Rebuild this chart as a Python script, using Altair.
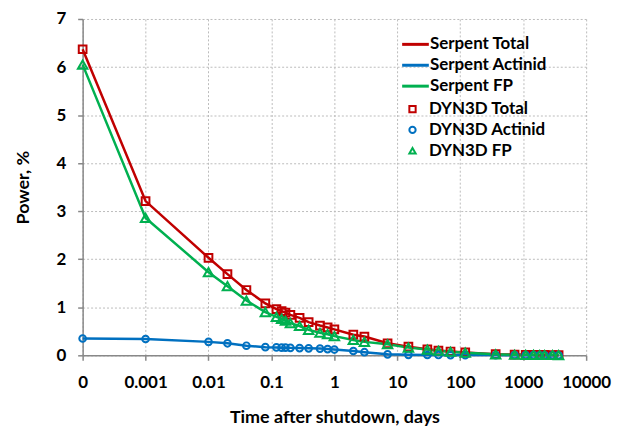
import altair as alt
import pandas as pd

times = [0.0001, 0.001, 0.01, 0.02, 0.04, 0.08, 0.12, 0.145, 0.167, 0.2, 0.28, 0.39, 0.59, 0.78, 1,
         2, 3, 7, 15, 30, 45, 70, 120, 365, 730, 1095, 1460, 1825, 2190, 2920, 3650]
total = [6.37, 3.21, 2.03, 1.69, 1.36, 1.08, 0.96, 0.92, 0.89, 0.84, 0.78, 0.69, 0.62, 0.58, 0.54,
         0.43, 0.39, 0.25, 0.18, 0.125, 0.10, 0.08, 0.06, 0.025, 0.015, 0.012, 0.010, 0.009, 0.008, 0.007, 0.006]
actinid = [0.35, 0.34, 0.28, 0.25, 0.20, 0.17, 0.165, 0.16, 0.16, 0.155, 0.15, 0.145, 0.14, 0.13, 0.12,
           0.09, 0.065, 0.02, 0.01, 0.007, 0.006, 0.005, 0.005, 0.004, 0.003, 0.003, 0.003, 0.002, 0.002, 0.002, 0.002]
fp = [6.05, 2.86, 1.73, 1.44, 1.14, 0.90, 0.80, 0.76, 0.72, 0.67, 0.61, 0.53, 0.47, 0.44, 0.40,
      0.32, 0.28, 0.23, 0.16, 0.12, 0.095, 0.075, 0.055, 0.02, 0.012, 0.010, 0.008, 0.007, 0.006, 0.006, 0.005]

serpent_names = ["Serpent Total", "Serpent Actinid", "Serpent FP"]
dyn_names = ["DYN3D Total", "DYN3D Actinid", "DYN3D FP"]
colors = ["#C00000", "#0070C0", "#00B050"]
shapes = ["square", "circle", "triangle-up"]
sizes = [60, 45, 90]
x_ticks = [0.0001, 0.001, 0.01, 0.1, 1, 10, 100, 1000, 10000]

rows = []
for i, vals in enumerate([total, actinid, fp]):
    for t, v in zip(times, vals):
        rows.append({"t": t, "power": v, "serpent": serpent_names[i], "dyn": dyn_names[i],
                     "order": i, "sz": sizes[i]})
df = pd.DataFrame(rows)

FONT = "Lato"

x = alt.X("t:Q", scale=alt.Scale(type="log", domain=[0.0001, 10000], nice=False),
          axis=alt.Axis(values=x_ticks, format="~g",
                        labelExpr="datum.value < 0.0005 ? '0' : datum.label",
                        labelOverlap=False, labelFlush=False, labelBound=False,
                        title="Time after shutdown, days", labelPadding=14, titlePadding=19,
                        tickSize=5, grid=True))
y = alt.Y("power:Q", scale=alt.Scale(domain=[0, 7], nice=False),
          axis=alt.Axis(values=[0, 1, 2, 3, 4, 5, 6, 7], title="Power, %", labelPadding=12,
                        titlePadding=24, tickSize=5, grid=True))

lines = alt.Chart(df).mark_line(strokeWidth=2.5).encode(
    x=x, y=y,
    color=alt.Color("serpent:N", scale=alt.Scale(domain=serpent_names, range=colors),
                    legend=alt.Legend(title=None, orient="none", legendX=322, legendY=13,
                                      symbolType="M-1.25,0H1.25", symbolStrokeWidth=3, symbolSize=460,
                                      labelFont=FONT, labelFontWeight="bold", labelFontSize=17,
                                      labelColor="#000", rowPadding=0, labelOffset=2)),
    order=alt.Order("order:Q"),
)

points = alt.Chart(df).mark_point(filled=False, strokeWidth=2, opacity=1).encode(
    x=x, y=y,
    shape=alt.Shape("dyn:N", scale=alt.Scale(domain=dyn_names, range=shapes),
                    legend=alt.Legend(title=None, orient="none", legendX=323, legendY=82,
                                      symbolSize=40, symbolStrokeWidth=2, symbolFillColor="white",
                                      symbolOpacity=1,
                                      labelFont=FONT, labelFontWeight="bold", labelFontSize=17,
                                      labelColor="#000", rowPadding=3, labelOffset=8)),
    stroke=alt.Stroke("dyn:N", scale=alt.Scale(domain=dyn_names, range=colors)),
    size=alt.Size("sz:Q", scale=None, legend=None),
    order=alt.Order("order:Q"),
)

chart = alt.layer(lines, points).resolve_scale(color="independent").properties(
    width=506, height=338,
    autosize=alt.AutoSizeParams(type="none"),
    padding={"left": 75, "top": 10, "right": 30, "bottom": 72},
).configure_view(stroke=None).configure_axis(
    labelFont=FONT, labelFontWeight="bold", labelFontSize=17, labelColor="#000",
    titleFont=FONT, titleFontWeight="bold", titleFontSize=18, titleColor="#000",
    gridColor="#bbbbbb", gridDash=[2, 2], gridWidth=1,
    domainColor="#888888", domainWidth=1.5, tickColor="#888888", tickWidth=1.5,
)

chart.save("out.html", embed_options={"renderer": "svg", "actions": False})
